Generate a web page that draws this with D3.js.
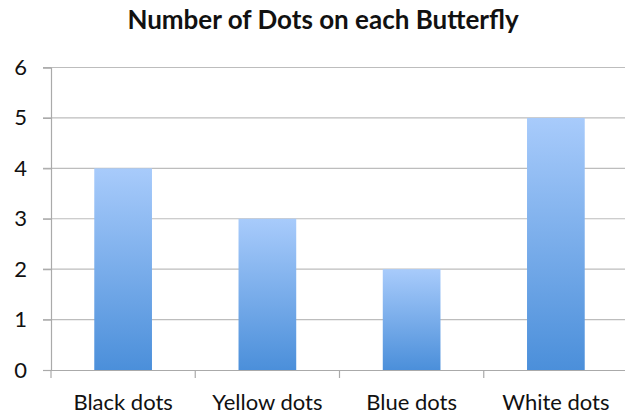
<!DOCTYPE html>
<html>
<head>
<meta charset="utf-8">
<script src="https://cdn.jsdelivr.net/npm/d3@7"></script>
<style>
  body { margin: 0; background: #fff; }
  svg { display: block; font-family: Lato, "Open Sans", sans-serif; }
</style>
</head>
<body>
<div id="chart"></div>
<script>
var categories = ["Black dots", "Yellow dots", "Blue dots", "White dots"];
var dots = [4, 3, 2, 5];
var yTicks = [0, 1, 2, 3, 4, 5, 6];
var title = "Number of Dots on each Butterfly";

var W = 625, H = 417;
var svg = d3.select("#chart").append("svg")
    .attr("width", W)
    .attr("height", H);

var x = d3.scaleBand()
    .domain(categories)
    .range([51, 628])
    .paddingInner(0.6)
    .paddingOuter(0.3);

var y = d3.scaleLinear()
    .domain([0, 6])
    .range([370, 67.5]);

// gradient for bars
var grad = svg.append("defs").append("linearGradient")
    .attr("id", "barGrad")
    .attr("x1", "0%").attr("y1", "0%")
    .attr("x2", "0%").attr("y2", "100%");
grad.append("stop").attr("offset", "0%").style("stop-color", "#a8cbfb");
grad.append("stop").attr("offset", "100%").style("stop-color", "#4b8fda");

// gridlines
svg.append("g").selectAll("line")
    .data(yTicks.filter(function(d){ return d > 0; }))
    .enter().append("line")
    .attr("x1", 43).attr("x2", W)
    .attr("y1", function(d){ return y(d); })
    .attr("y2", function(d){ return y(d); })
    .style("stroke", "#bdbdbd")
    .style("stroke-width", 1.2);

// bars
svg.append("g").selectAll("rect")
    .data(dots)
    .enter().append("rect")
    .attr("x", function(d, i){ return x(categories[i]); })
    .attr("width", x.bandwidth())
    .attr("y", function(d){ return y(d); })
    .attr("height", function(d){ return y(0) - y(d); })
    .style("fill", "url(#barGrad)");

// y axis
var yAxis = svg.append("g")
    .attr("transform", "translate(51,0)")
    .call(d3.axisLeft(y).tickValues(yTicks).tickFormat(d3.format("d")).tickSize(8).tickPadding(16));
yAxis.select(".domain").style("stroke", "#aaa").style("stroke-width", 1.2);
yAxis.selectAll(".tick line").style("stroke", "#aaa").style("stroke-width", 1.2);
yAxis.selectAll("text").style("font-size", "22px").style("fill", "#111")
    .style("font-family", "Lato, sans-serif");

// x axis
var xAxis = svg.append("g")
    .attr("transform", "translate(0," + y(0) + ")")
    .call(d3.axisBottom(x).tickSize(0).tickPadding(24));
xAxis.select(".domain").style("stroke", "#aaa").style("stroke-width", 1.2);
xAxis.selectAll("text").style("font-size", "22px").style("fill", "#111")
    .style("font-family", "Lato, sans-serif");

// category dividers (incl. the left edge)
var step = x.step();
var edges = [x.range()[0]].concat(categories.map(function(d){
    return x(d) - x.paddingInner() * step / 2 + step;
}));
svg.append("g").selectAll("line")
    .data(edges)
    .enter().append("line")
    .attr("x1", function(d){ return d; })
    .attr("x2", function(d){ return d; })
    .attr("y1", y(0)).attr("y2", y(0) + 8)
    .style("stroke", "#aaa").style("stroke-width", 1.2);

// title
svg.append("text")
    .attr("x", 323).attr("y", 29)
    .attr("text-anchor", "middle")
    .style("font-size", "26px")
    .style("font-weight", "bold")
    .style("font-family", "Lato, sans-serif")
    .style("fill", "#111")
    .text(title);
</script>
</body>
</html>
